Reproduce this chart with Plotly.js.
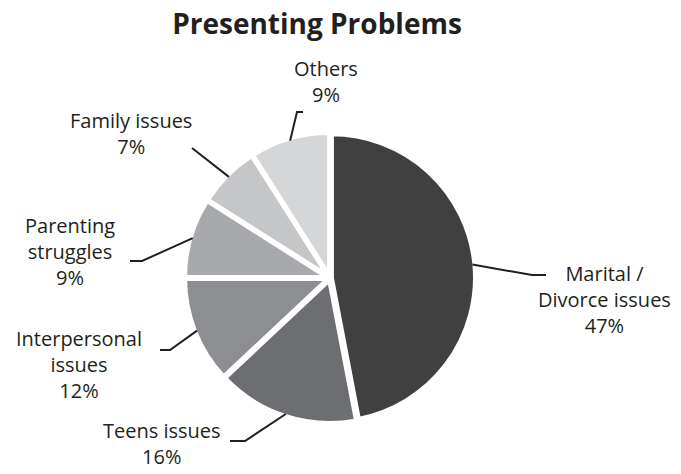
<!DOCTYPE html>
<html>
<head>
<meta charset="utf-8">
<script src="https://cdn.plot.ly/plotly-3.0.1.min.js"></script>
<style>html,body{margin:0;padding:0;background:#fff;}#chart{width:681px;height:474px;}</style>
</head>
<body>
<div id="chart"></div>
<script>
// ---- data ----
var categories = ["Marital /<br>Divorce issues", "Teens issues", "Interpersonal<br>issues", "Parenting<br>struggles", "Family issues", "Others"];
var values = [47, 16, 12, 9, 7, 9];
var percentLabels = ["47%", "16%", "12%", "9%", "7%", "9%"];
var sliceColors = ["#404041", "#6d6e71", "#8d8e91", "#a8a9ac", "#c5c6c8", "#d5d6d8"];

// ---- layout helpers (pixel positions of the outside labels) ----
var W = 681, H = 474;
var labelX = [604, 162, 79, 70, 131, 326];                 // centre x of each label block
var labelMeanBaseline = [306.7, 450, 371.7, 258.3, 140, 88.5]; // mean baseline of block lines
var leaderElbow = [[532, 275], [245, 441], [170, 350], [142, 261], [192, 148], [297, 112]];
var leaderEnd = [[546, 275], [230, 441], [160, 350], [130, 261], [192, 148], [303, 112]];
var fs = 20;

var domX = [0.27093, 0.69824], domY = [0.10654, 0.72046];
var pull = 0.01, lineW = 5;

var pieW = (domX[1] - domX[0]) * W, pieH = (domY[1] - domY[0]) * H;
var r = Math.min(pieW, pieH) / (2 + 2 * pull);
var cx = W * (domX[0] + domX[1]) / 2;
var cy = H * (1 - (domY[0] + domY[1]) / 2);

function px(x) { return x / W; }
function py(y) { return 1 - y / H; }

var total = values.reduce(function (a, b) { return a + b; }, 0);
var shapes = [], annotations = [];
var cum = 0;
values.forEach(function (v, i) {
  var theta = (cum + v / 2) / total * 2 * Math.PI;
  cum += v;
  var R = r * (1 + pull) - 2.5;
  var sx = cx + R * Math.sin(theta), sy = cy - R * Math.cos(theta);
  var e = leaderElbow[i], f = leaderEnd[i];
  shapes.push({
    type: "path", xref: "paper", yref: "paper",
    path: "M " + px(sx) + " " + py(sy) + " L " + px(e[0]) + " " + py(e[1]) + " L " + px(f[0]) + " " + py(f[1]),
    line: { color: "#231f20", width: 2 }
  });
  annotations.push({
    text: categories[i] + "<br>" + percentLabels[i],
    xref: "paper", yref: "paper",
    x: px(labelX[i]), y: py(labelMeanBaseline[i] - 0.34 * fs),
    xanchor: "center", yanchor: "middle", align: "center",
    showarrow: false,
    font: { family: "Open Sans, sans-serif", size: fs, color: "#231f20" }
  });
});

var trace = {
  type: "pie",
  labels: categories.map(function (c) { return c.replace("<br>", " "); }),
  values: values,
  sort: false,
  direction: "clockwise",
  rotation: 0,
  pull: values.map(function () { return pull; }),
  marker: { colors: sliceColors, line: { color: "#ffffff", width: lineW } },
  textinfo: "none",
  textposition: "none",
  hoverinfo: "label+percent",
  domain: { x: domX, y: domY },
  showlegend: false
};

var layout = {
  width: W, height: H,
  margin: { l: 0, r: 0, t: 0, b: 0 },
  paper_bgcolor: "#ffffff",
  plot_bgcolor: "#ffffff",
  showlegend: false,
  title: {
    text: "<b>Presenting Problems</b>",
    x: 317 / W, xanchor: "center", xref: "paper",
    y: 1 - 24 / H, yanchor: "middle", yref: "container",
    font: { family: "Open Sans, sans-serif", size: 28, color: "#231f20" }
  },
  shapes: shapes,
  annotations: annotations
};

Plotly.newPlot("chart", [trace], layout, { displayModeBar: false, staticPlot: true });
</script>
</body>
</html>
